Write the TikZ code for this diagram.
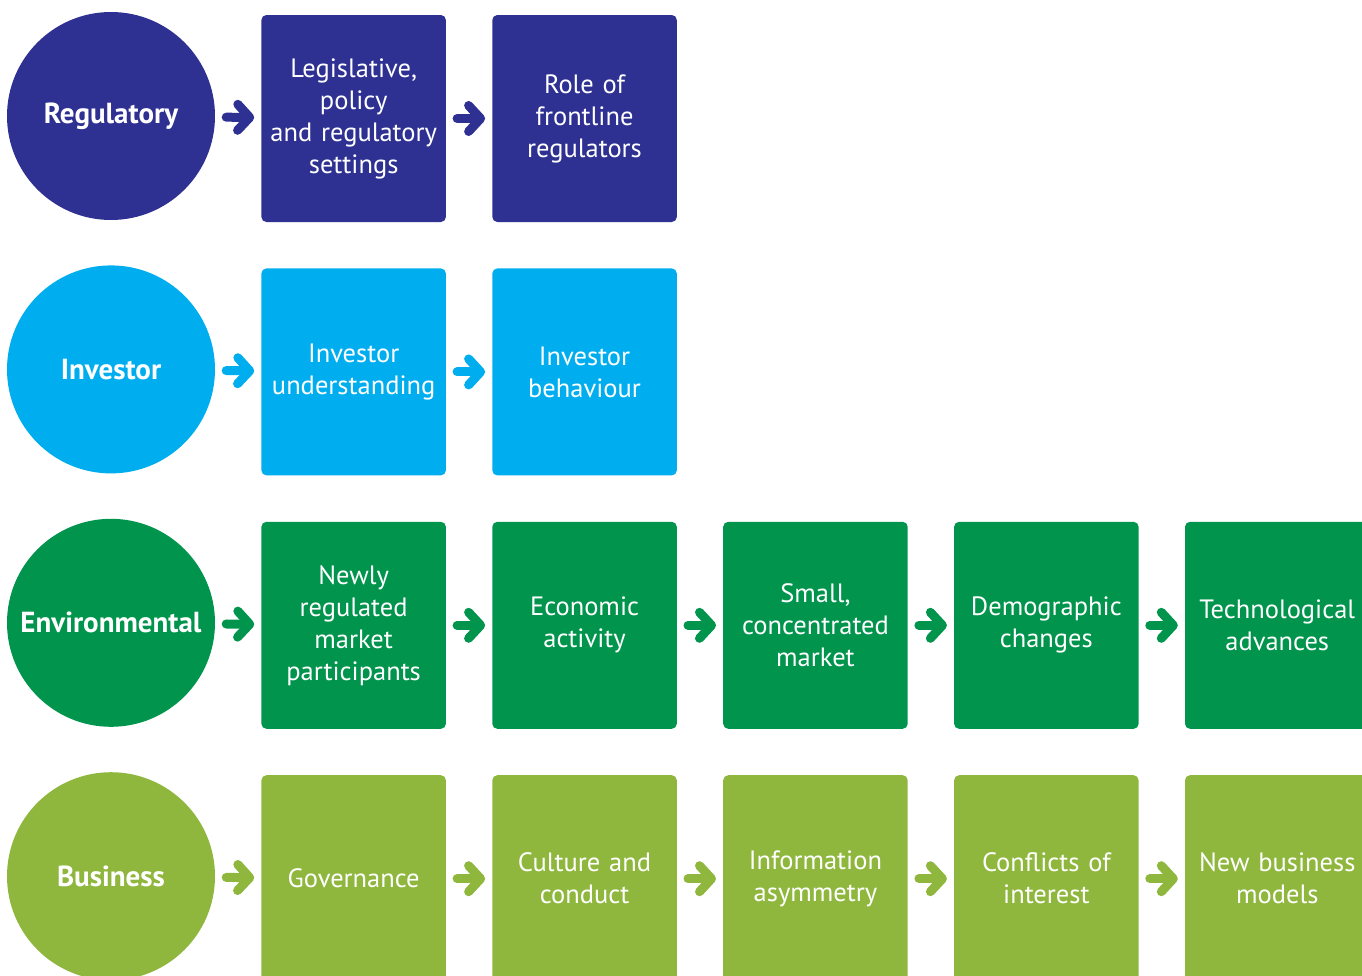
\documentclass[tikz,border=0pt]{standalone}
\usepackage{fontspec}
\setmainfont{PT Sans}
\usepackage{tikz}
\usetikzlibrary{positioning, arrows.meta}
\definecolor{regblue}{RGB}{46, 49, 146}
\definecolor{invcyan}{RGB}{0, 174, 239}
\definecolor{envgreen}{RGB}{0, 148, 76}
\definecolor{busgreen}{RGB}{143, 183, 62}

\begin{document}
\begin{tikzpicture}[x=1pt, y=-1pt,
  hub/.style={circle, minimum size=208pt, inner sep=0pt, text=white,
    font=\fontsize{29}{32}\selectfont\bfseries},
  stepbox/.style={rectangle, rounded corners=5pt, minimum width=184.5pt,
    minimum height=207pt, inner sep=0pt, text width=180pt, align=center,
    text=white, font=\fontsize{26.5}{32}\selectfont},
  link/.style={line width=9pt, line cap=round,
    -{Straight Barb[length=12pt, width=26pt, round]},
    shorten <=11pt, shorten >=7pt}
]
  \useasboundingbox (0,0) rectangle (1362,975);
  \clip (0,0) rectangle (1362,975);

  \node[hub, fill=regblue] (reg) at (111,116) {Regulatory};
  \node[hub, fill=invcyan, below=45pt of reg] (inv) {Investor};
  \node[hub, fill=envgreen, below=45pt of inv] (env) {Environmental};
  \node[hub, fill=busgreen, below=45pt of env] (bus) {Business};

  \node[stepbox, fill=regblue, right=46pt of reg, yshift=-2.5pt] (reg1) {Legislative,\\policy\\and regulatory\\settings};
  \node[stepbox, fill=regblue, right=46pt of reg1] (reg2) {Role of\\frontline\\regulators};

  \node[stepbox, fill=invcyan, right=46pt of inv, yshift=-2.5pt] (inv1) {Investor\\understanding};
  \node[stepbox, fill=invcyan, right=46pt of inv1] (inv2) {Investor\\behaviour};

  \node[stepbox, fill=envgreen, right=46pt of env, yshift=-2.5pt] (env1) {Newly\\regulated\\market\\participants};
  \node[stepbox, fill=envgreen, right=46pt of env1] (env2) {Economic\\activity};
  \node[stepbox, fill=envgreen, right=46pt of env2] (env3) {Small,\\concentrated\\market};
  \node[stepbox, fill=envgreen, right=46pt of env3] (env4) {Demographic\\changes};
  \node[stepbox, fill=envgreen, right=46pt of env4] (env5) {Technological\\advances};

  \node[stepbox, fill=busgreen, right=46pt of bus, yshift=-2.5pt] (bus1) {Governance};
  \node[stepbox, fill=busgreen, right=46pt of bus1] (bus2) {Culture and\\conduct};
  \node[stepbox, fill=busgreen, right=46pt of bus2] (bus3) {Information\\asymmetry};
  \node[stepbox, fill=busgreen, right=46pt of bus3] (bus4) {Conflicts of\\interest};
  \node[stepbox, fill=busgreen, right=46pt of bus4] (bus5) {New business\\models};

  \draw[link, regblue] (reg) -- (reg1);
  \draw[link, regblue] (reg1) -- (reg2);

  \draw[link, invcyan] (inv) -- (inv1);
  \draw[link, invcyan] (inv1) -- (inv2);

  \draw[link, envgreen] (env) -- (env1);
  \draw[link, envgreen] (env1) -- (env2);
  \draw[link, envgreen] (env2) -- (env3);
  \draw[link, envgreen] (env3) -- (env4);
  \draw[link, envgreen] (env4) -- (env5);

  \draw[link, busgreen] (bus) -- (bus1);
  \draw[link, busgreen] (bus1) -- (bus2);
  \draw[link, busgreen] (bus2) -- (bus3);
  \draw[link, busgreen] (bus3) -- (bus4);
  \draw[link, busgreen] (bus4) -- (bus5);
\end{tikzpicture}
\end{document}
